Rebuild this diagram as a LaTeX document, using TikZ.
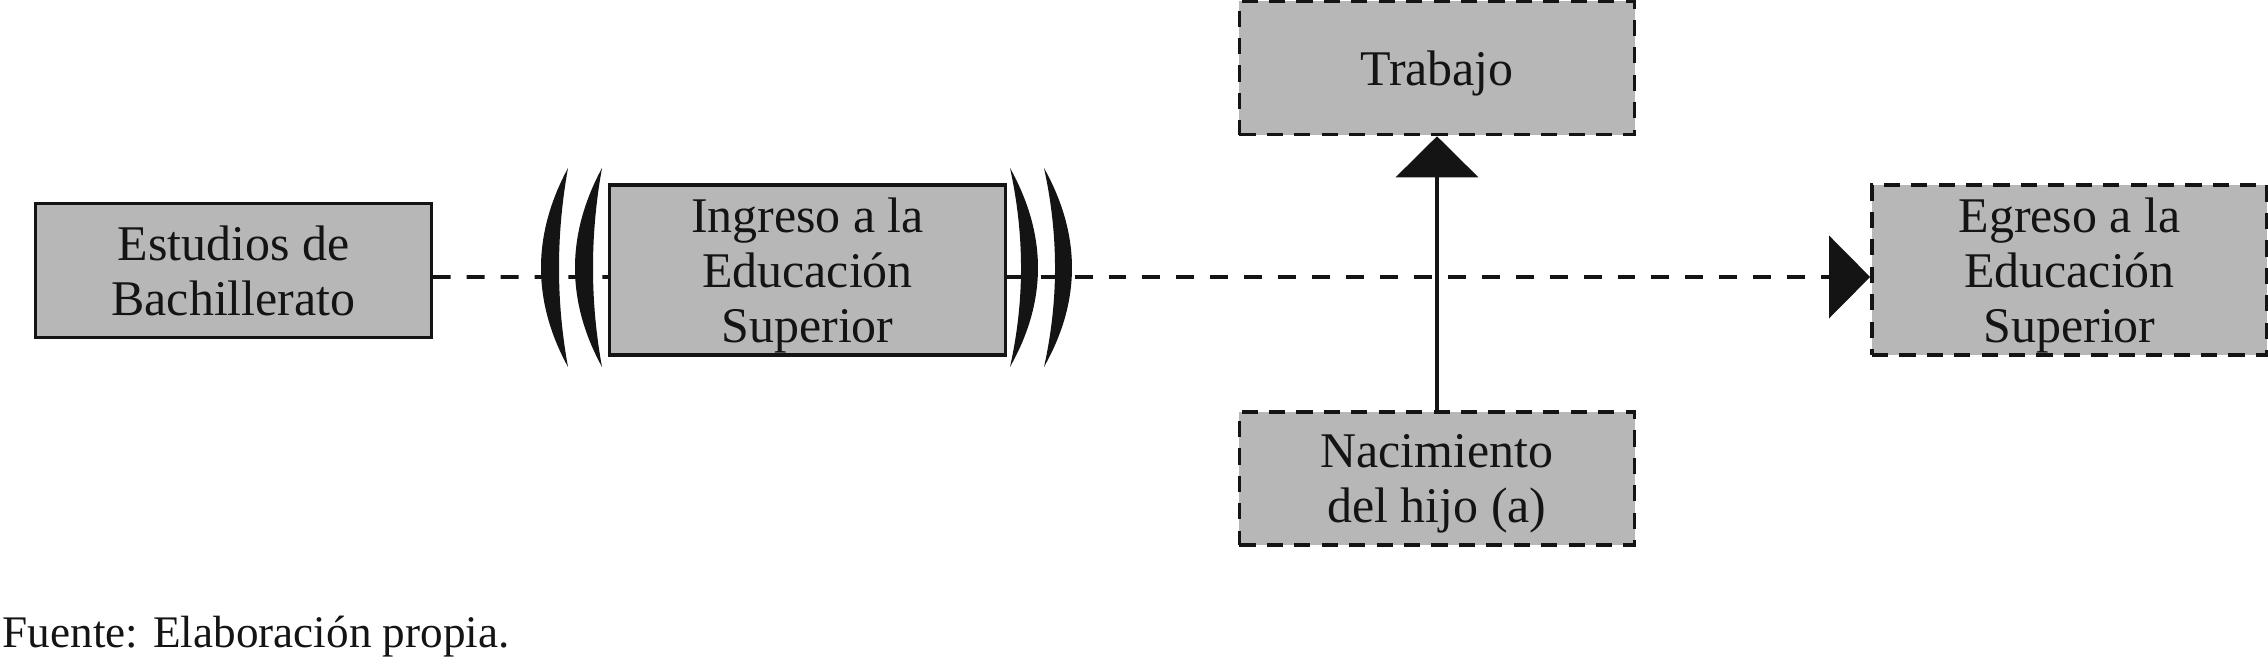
\documentclass[tikz,border=0pt]{standalone}
\usepackage{fontspec}
\setmainfont{Liberation Serif}
\usetikzlibrary{arrows.meta}
\definecolor{boxgray}{RGB}{183,183,183}
\definecolor{ink}{RGB}{20,20,20}
% last line of a box text: keep its height, ignore its descenders
\newcommand\nodep[1]{\raisebox{0pt}[\height][0pt]{#1}}
\begin{document}
\begin{tikzpicture}[x=0.01cm,y=-0.01cm,
  box/.style={draw=ink, fill=boxgray, line width=0.9pt, minimum width=3.95cm,
    minimum height=1.35cm, inner sep=0pt, align=center,
    font=\fontsize{14.2}{15.6}\selectfont, text=ink},
  dbox/.style={box, dash pattern=on 4.6pt off 3.2pt, line width=1pt},
  conn/.style={draw=ink, line width=1.1pt},
  dconn/.style={conn, dash pattern=on 5.1pt off 4.55pt},
  tipend/.style={-{Triangle[length=0.41cm,width=0.82cm]}},
  brk/.style={fill=ink, draw=none}]
\useasboundingbox (0,0) rectangle (2268,659);

\node[box, minimum height=1.34cm] (b1) at (233.5,270.5) {Estudios de\\\nodep{Bachillerato}};
\node[box, minimum height=1.70cm] (b2) at (807.5,270) {Ingreso a la\\Educación\\\nodep{Superior}};
\node[dbox, minimum height=1.33cm] (trab) at (1437,68) {\nodep{Trabajo}};
\node[dbox, minimum height=1.33cm] (nac) at (1437,478.5) {Nacimiento\\\nodep{del hijo (a)}};
\node[dbox, minimum height=1.70cm] (egr) at (2069.5,270) {Egreso a la\\Educación\\\nodep{Superior}};

\draw[dconn] ([yshift=-0.065cm]b1.east) -- ([yshift=-0.07cm]b2.west);
\draw[dconn, tipend] ([yshift=-0.07cm]b2.east) -- ([yshift=-0.07cm]egr.west);
\draw[conn, tipend] (nac.north) -- (trab.south);

% left brackets
\fill[brk] (568,168) .. controls (532,235) and (532,301) .. (568,367)
  .. controls (556,301) and (556,235) .. (568,168) -- cycle;
\fill[brk] (602,168) .. controls (566,235) and (566,301) .. (602,367)
  .. controls (590,301) and (590,235) .. (602,168) -- cycle;
% right brackets
\fill[brk] (1010,168) .. controls (1047.3,235) and (1047.3,301) .. (1010,367)
  .. controls (1024.7,301) and (1024.7,235) .. (1010,168) -- cycle;
\fill[brk] (1044,168) .. controls (1081.3,235) and (1081.3,301) .. (1044,367)
  .. controls (1058.7,301) and (1058.7,235) .. (1044,168) -- cycle;

\node[anchor=base west, inner sep=0pt, font=\fontsize{12.85}{14}\selectfont, text=ink]
  (cap) at (2,648) {Fuente: Elaboración propia.};
\end{tikzpicture}
\end{document}
